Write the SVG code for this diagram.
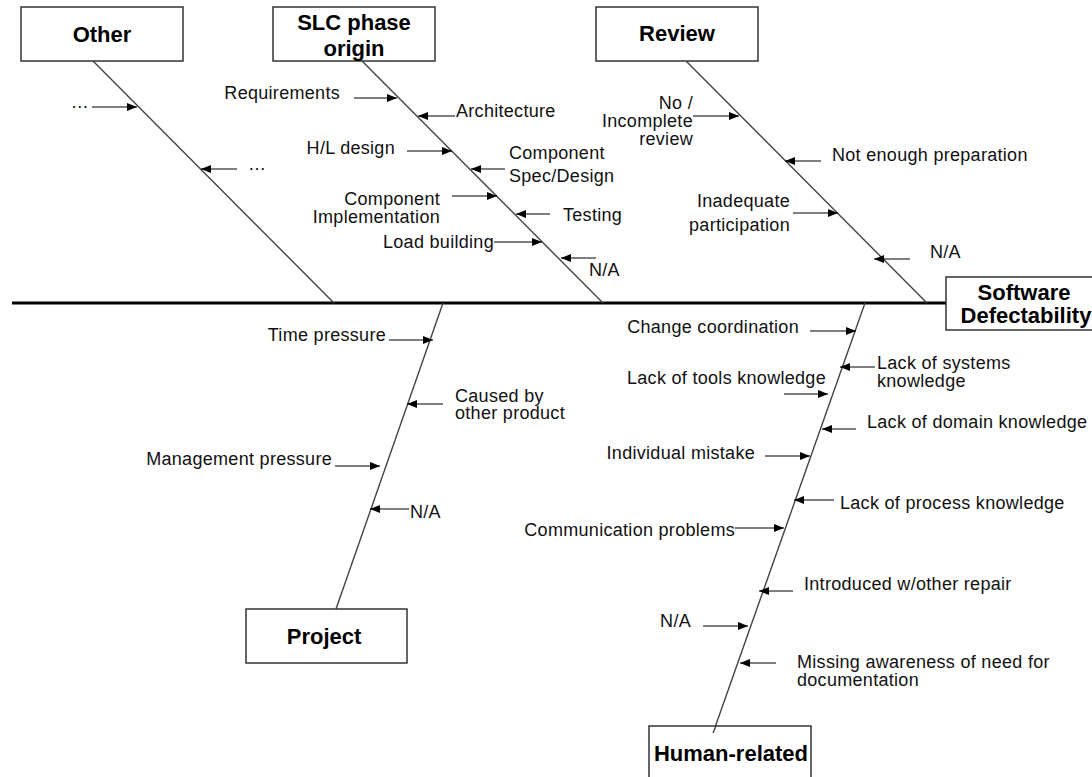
<svg xmlns="http://www.w3.org/2000/svg" width="1092" height="777" viewBox="0 0 1092 777">
<style>
text{font-family:"Liberation Sans",Arial,sans-serif;fill:#000}
.t{font-size:18px;letter-spacing:0.3px;fill:#111}
.e{text-anchor:end}
.b{font-size:22px;font-weight:bold;text-anchor:middle}
.box{fill:#fff;stroke:#333;stroke-width:1.5}
.bone{stroke:#444;stroke-width:1.4;fill:none}
.spine{stroke:#000;stroke-width:3;fill:none}
.ar{stroke:#000;stroke-width:1.2;fill:none;marker-end:url(#ah)}
</style>
<defs>
<marker id="ah" viewBox="0 0 10 8" refX="10" refY="4" markerWidth="10" markerHeight="8" markerUnits="userSpaceOnUse" orient="auto">
<path d="M0,0 L10,4 L0,8 Z" fill="#000"/>
</marker>
</defs>
<rect width="1092" height="777" fill="#fff"/>

<g id="connectors">
<line class="spine" x1="12" y1="303" x2="946" y2="303"/>
<line class="bone" x1="93" y1="61" x2="334" y2="303"/>
<line class="bone" x1="362" y1="61" x2="603" y2="303"/>
<line class="bone" x1="686" y1="61" x2="927" y2="303"/>
<line class="bone" x1="443" y1="303" x2="336" y2="609"/>
<line class="bone" x1="865" y1="303" x2="713" y2="733"/>
<!-- Other -->
<line class="ar" x1="92" y1="107" x2="137" y2="107"/>
<line class="ar" x1="237" y1="169" x2="201" y2="169"/>
<!-- SLC -->
<line class="ar" x1="354" y1="98" x2="397" y2="98"/>
<line class="ar" x1="455" y1="116" x2="418" y2="116"/>
<line class="ar" x1="407" y1="151" x2="452" y2="151"/>
<line class="ar" x1="505" y1="169" x2="471" y2="169"/>
<line class="ar" x1="452" y1="196" x2="497" y2="196"/>
<line class="ar" x1="550" y1="214" x2="516" y2="214"/>
<line class="ar" x1="494" y1="242" x2="542" y2="242"/>
<line class="ar" x1="596" y1="258" x2="561" y2="258"/>
<!-- Review -->
<line class="ar" x1="693" y1="116" x2="739" y2="116"/>
<line class="ar" x1="821" y1="161" x2="785" y2="161"/>
<line class="ar" x1="793" y1="213" x2="838" y2="213"/>
<line class="ar" x1="910" y1="259" x2="874" y2="259"/>
<!-- Project -->
<line class="ar" x1="389" y1="340" x2="433" y2="340"/>
<line class="ar" x1="443" y1="404" x2="407" y2="404"/>
<line class="ar" x1="335" y1="466" x2="380" y2="466"/>
<line class="ar" x1="409" y1="509" x2="370" y2="509"/>
<!-- Human -->
<line class="ar" x1="810" y1="331" x2="856" y2="331"/>
<line class="ar" x1="875" y1="367" x2="840" y2="367"/>
<line class="ar" x1="784" y1="394" x2="828" y2="394"/>
<line class="ar" x1="856" y1="429" x2="822" y2="429"/>
<line class="ar" x1="765" y1="456" x2="810" y2="456"/>
<line class="ar" x1="834" y1="500" x2="794" y2="500"/>
<line class="ar" x1="735" y1="528" x2="784" y2="528"/>
<line class="ar" x1="793" y1="591" x2="759" y2="591"/>
<line class="ar" x1="703" y1="626" x2="748" y2="626"/>
<line class="ar" x1="776" y1="663" x2="740" y2="663"/>
</g>

<g id="node-other">
<rect class="box" x="21" y="7" width="162" height="54"/>
<text class="b" x="102" y="42">Other</text>
</g>
<g id="node-slc">
<rect class="box" x="273" y="7" width="162" height="54"/>
<text class="b" x="354" y="30">SLC phase</text>
<text class="b" x="354" y="56">origin</text>
</g>
<g id="node-review">
<rect class="box" x="596" y="7" width="162" height="54"/>
<text class="b" x="677" y="41">Review</text>
</g>
<g id="node-effect">
<rect class="box" x="946" y="277" width="160" height="53"/>
<text class="b" x="1024" y="300">Software</text>
<text class="b" x="1026" y="323">Defectability</text>
</g>
<g id="node-project">
<rect class="box" x="246" y="609" width="161" height="54"/>
<text class="b" x="324" y="644">Project</text>
</g>
<g id="node-human">
<rect class="box" x="649" y="726" width="162" height="60"/>
<line class="bone" x1="716" y1="726" x2="713" y2="733"/>
<text class="b" x="731" y="761">Human-related</text>
</g>

<g id="labels-other">
<text class="t e" x="89" y="108">…</text>
<text class="t" x="248" y="170">…</text>
</g>
<g id="labels-slc">
<text class="t e" x="340" y="99">Requirements</text>
<text class="t" x="456" y="117">Architecture</text>
<text class="t e" x="395" y="154">H/L design</text>
<text class="t" x="509" y="159">Component</text>
<text class="t" x="509" y="182">Spec/Design</text>
<text class="t e" x="440" y="205">Component</text>
<text class="t e" x="440" y="223">Implementation</text>
<text class="t" x="563" y="221">Testing</text>
<text class="t e" x="494" y="248">Load building</text>
<text class="t" x="589" y="276">N/A</text>
</g>
<g id="labels-review">
<text class="t e" x="693" y="109">No /</text>
<text class="t e" x="693" y="127">Incomplete</text>
<text class="t e" x="693" y="145">review</text>
<text class="t" x="832" y="161">Not enough preparation</text>
<text class="t e" x="790" y="207">Inadequate</text>
<text class="t e" x="790" y="231">participation</text>
<text class="t" x="930" y="258">N/A</text>
</g>
<g id="labels-project">
<text class="t e" x="386" y="341">Time pressure</text>
<text class="t" x="455" y="402">Caused by</text>
<text class="t" x="455" y="419">other product</text>
<text class="t e" x="332" y="465">Management pressure</text>
<text class="t" x="410" y="518">N/A</text>
</g>
<g id="labels-human">
<text class="t e" x="799" y="333">Change coordination</text>
<text class="t" x="877" y="369">Lack of systems</text>
<text class="t" x="877" y="387">knowledge</text>
<text class="t e" x="826" y="384">Lack of tools knowledge</text>
<text class="t" x="867" y="428">Lack of domain knowledge</text>
<text class="t e" x="755" y="459">Individual mistake</text>
<text class="t" x="840" y="509">Lack of process knowledge</text>
<text class="t e" x="735" y="536">Communication problems</text>
<text class="t" x="804" y="590">Introduced w/other repair</text>
<text class="t e" x="691" y="627">N/A</text>
<text class="t" x="797" y="668">Missing awareness of need for</text>
<text class="t" x="797" y="686">documentation</text>
</g>
</svg>
